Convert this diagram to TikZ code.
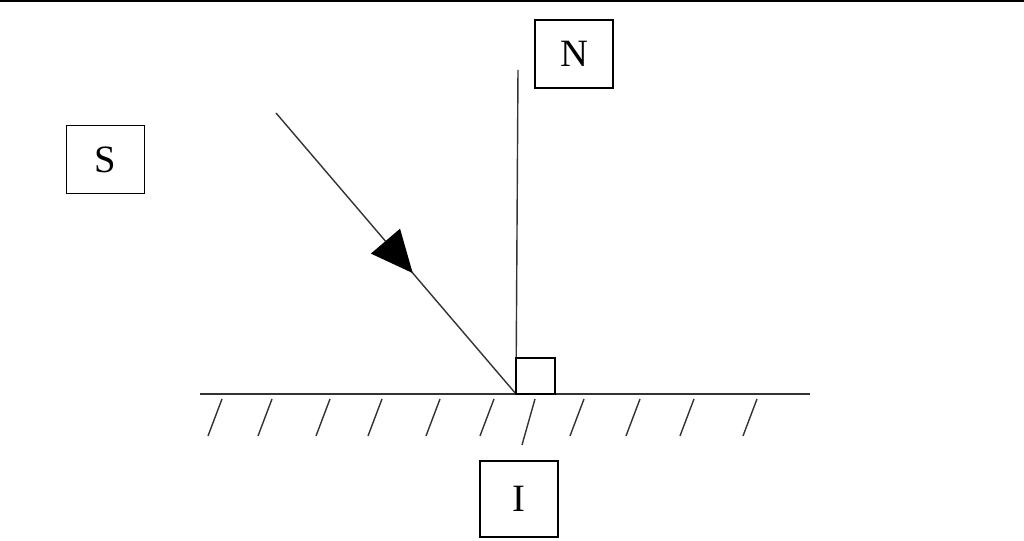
\documentclass[tikz,border=0pt]{standalone}
\usepackage{fontspec}
\setmainfont{Liberation Serif}
\usetikzlibrary{arrows.meta,decorations.markings}
\begin{document}
\begin{tikzpicture}
    [lbl/.style={draw,thin,minimum width=7.8mm,minimum height=6.8mm,font=\fontsize{11}{13}\selectfont},
    ray/.style={thin,black!80},
    hatch/.style={thin,black!80}]
    \useasboundingbox (0,0) rectangle (10.24,5.41);
    \draw[thin] (0,5.40) -- (10.24,5.40);

    \node[lbl] (S) at (1.055,3.815) {S};
    \node[lbl] (N) at (5.74,4.87) {N};
    \node[lbl,minimum height=7.6mm] (I) at (5.19,0.42) {I};

    \coordinate (gl) at (2.00,1.47);
    \coordinate (gr) at (8.10,1.47);
    \coordinate (o) at (5.16,1.47);
    \coordinate (src) at (2.76,4.28);
    \coordinate (ntop) at (5.18,4.71);

    \draw[ray] (gl) -- (gr);
    \draw[ray] (o) -- (ntop);
    \draw[ray, decoration={markings,
        mark=at position 0.57 with {\arrow[black]{Triangle[length=4.2mm,width=3.8mm]}}},
        postaction={decorate}] (src) -- (o);
    \draw[semithick] (o) rectangle ++(0.39,0.36);

    % hatching under the surface
    \foreach \x in {2.08,2.58,3.16,3.68,4.26,4.80,5.70,6.26,6.80,7.43}
    {
        \draw[hatch] (\x,1.05) -- ++(0.14,0.37);
    }
    \draw[hatch] (5.22,0.96) -- (5.35,1.42);
\end{tikzpicture}
\end{document}
